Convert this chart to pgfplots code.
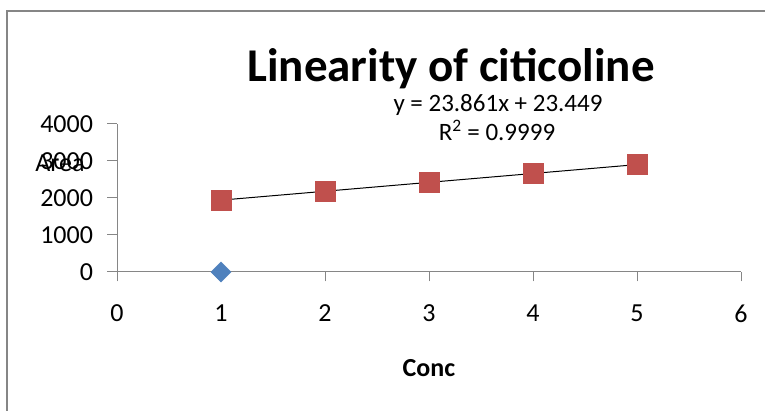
\documentclass[border=0pt]{standalone}
\usepackage{pgfplots}
\pgfplotsset{compat=1.18}
\usepackage{fontspec}
\setmainfont{Carlito}
\definecolor{axgray}{HTML}{868686}
\definecolor{exred}{HTML}{C0504D}
\definecolor{exblue}{HTML}{4F81BD}
\begin{document}
\begin{tikzpicture}[x=1pt,y=1pt]
\useasboundingbox (0,0) rectangle (765,411);
\draw[axgray, line width=2pt] (7,-2) -- (7,400) -- (765,400);
\begin{axis}[
  at={(117pt,139pt)}, anchor=south west,
  scale only axis, width=624pt, height=148pt,
  xmin=0, xmax=6, ymin=0, ymax=4000,
  xtick={0,1,2,3,4,5,6}, ytick={0,1000,2000,3000,4000},
  axis lines*=left,
  axis line style={axgray, line width=1pt},
  tick style={axgray, line width=1pt},
  tick align=outside, major tick length=9.5pt,
  scaled y ticks=false,
  /pgf/number format/assume math mode=true,
  /pgf/number format/1000 sep={},
  ticklabel style={font=\fontsize{26}{26}\selectfont, text=black},
  xticklabel style={yshift=-20pt},
  yticklabel style={xshift=-11pt},
  clip=false,
]
\addplot[only marks, mark=square*, mark size=7.1pt, mark options={rotate=45, fill=exblue, draw=exblue}] coordinates {(1,0)};
\addplot[only marks, mark=square*, mark size=10pt, mark options={fill=exred, draw=exred}] coordinates {(1,1942) (2,2185) (3,2417) (4,2660) (5,2903)};
\addplot[black, line width=1pt, mark=none] coordinates {(1,1942) (5,2903)};
\end{axis}
\node[anchor=base, font=\bfseries\fontsize{47}{47}\selectfont] at (451,329) {Linearity of citicoline};
\node[anchor=base, font=\fontsize{25}{25}\selectfont] at (498,299) {y = 23.861x + 23.449};
\node[anchor=base, font=\fontsize{25}{25}\selectfont] at (497,270) {R\textsuperscript{2} = 0.9999};
\node[anchor=base, font=\fontsize{26}{26}\selectfont] at (60,239) {Area};
\node[anchor=base, font=\bfseries\fontsize{26}{26}\selectfont] at (429,34) {Conc};
\end{tikzpicture}
\end{document}
